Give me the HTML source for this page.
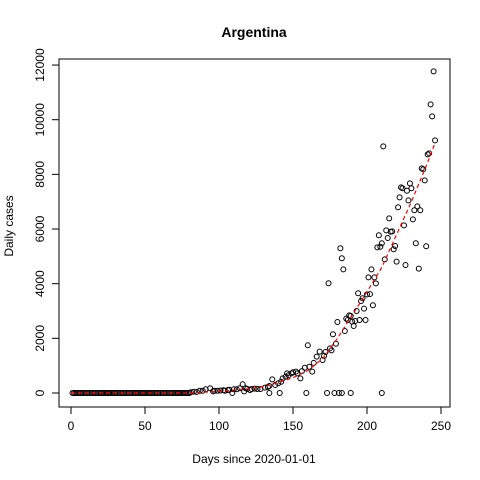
<!DOCTYPE html>
<html><head><meta charset="utf-8"><style>
body{margin:0;background:#fff;}
svg{display:block;font-family:"Liberation Sans",Arial,sans-serif;}
</style></head><body>
<svg id="chart" width="480" height="480">
<rect width="480" height="480" fill="#fff"/>
<text x="254" y="37" text-anchor="middle" font-weight="bold" font-size="14">Argentina</text>
<text x="254" y="463" text-anchor="middle" font-size="12">Days since 2020-01-01</text>
<text x="0" y="0" transform="translate(13,226) rotate(-90)" text-anchor="middle" font-size="12">Daily cases</text>
<rect x="59" y="59" width="391" height="348" fill="none" stroke="#000"/>
<g id="axes"></g><g id="pts"></g><g id="trend"></g>
</svg>
<script>
const xTicks=[0,50,100,150,200,250];
const yTicks=[0,2000,4000,6000,8000,10000,12000];
const zeroDays=[1,2,3,4,5,6,7,8,9,10,11,12,13,14,15,16,17,18,19,20,21,22,23,24,25,26,27,28,29,30,31,32,33,34,35,36,37,38,39,40,41,42,43,44,45,46,47,48,49,50,51,52,53,54,55,56,57,58,59,60,61,62,63,64,65,66,67,68,69,70,71,72,73,74,75,76,77,78,79,80,109,134,141,159,173,178,181,183,189,210];
const days=[
81,83,85,87,89,91,94,96,97,99,
101,103,104,106,107,110,112,114,116,117,
118,119,121,122,124,126,128,131,133,134,
136,138,140,142,143,145,146,147,149,150,
152,153,155,156,158,160,161,163,164,166,
168,170,171,172,174,175,176,177,179,180,
182,183,184,185,186,187,188,189,190,191,
192,193,194,195,196,197,198,199,200,201,
202,203,204,205,206,207,208,209,210,211,
212,213,214,215,216,217,218,219,220,221,
222,223,224,225,226,227,228,229,230,231,
232,233,234,235,236,237,238,239,240,241,
242,243,244,245,246];
const cases=[
26,48,40,84,84,135,172,60,84,84,
90,100,84,110,120,135,135,172,318,60,
172,150,110,146,160,146,146,195,220,256,
500,293,355,413,537,597,720,650,720,760,
780,720,537,800,926,1745,962,780,1100,1330,
1512,1207,1365,1500,4015,1635,1560,2150,1800,2600,
5295,4930,4525,2270,2720,2670,2840,2817,2610,2450,
2635,3000,3650,2670,3365,3465,3085,2670,3610,4230,
3620,4525,3210,4230,4010,5330,5770,5350,5480,9025,
4890,5950,5670,6390,5900,5915,5260,5380,4805,6795,
7160,7526,7490,6135,4685,7400,7050,7670,7490,6355,
6685,5480,6830,4550,6685,8220,8185,7780,5370,8730,
8770,10560,10120,11770,9245];
const trendDays=[0,80,100,120,130,140,150,160,170,180,190,200,210,220,230,240,246];
const trendVals=[0,0,60,150,230,380,560,820,1250,2000,2850,3700,4600,5800,7000,8300,9150];
const NS="http://www.w3.org/2000/svg";
const X=d=>71+d*1.48, Y=v=>393-v*0.02733;
const mk=(t,a,p)=>{const e=document.createElementNS(NS,t);for(const k in a)e.setAttribute(k,a[k]);p.appendChild(e);return e;};
const ax=document.getElementById('axes');
mk('line',{x1:X(0),x2:X(250),y1:407,y2:407,stroke:'#000'},ax);
mk('line',{x1:59,x2:59,y1:Y(0),y2:Y(12000),stroke:'#000'},ax);
xTicks.forEach(t=>{
 const l=mk('line',{x1:X(t),x2:X(t),y1:407,y2:414,stroke:'#000'},ax);
 
 
 const s=mk('text',{x:X(t),y:430,'text-anchor':'middle','font-size':12},ax);s.textContent=t;
 
 
});
yTicks.forEach(t=>{
 const l=mk('line',{x1:52,x2:59,y1:Y(t),y2:Y(t),stroke:'#000'},ax);
 
 
 const s=mk('text',{x:0,y:0,transform:`translate(44,${Y(t)}) rotate(-90)`,'text-anchor':'middle','font-size':12},ax);s.textContent=t;
 
 
});
const pg=document.getElementById('pts');
zeroDays.forEach(d=>{const c=mk('circle',{cx:X(d),cy:Y(0),r:2.5,fill:'none',stroke:'#000','stroke-width':1},pg);
 
 });
days.forEach((d,i)=>{const c=mk('circle',{cx:X(d),cy:Y(cases[i]),r:2.5,fill:'none',stroke:'#000','stroke-width':1},pg);
 
 });
const tp=mk('polyline',{points:trendDays.map((d,i)=>X(d)+','+Y(trendVals[i])).join(' '),fill:'none',stroke:'#f00','stroke-width':1.2,'stroke-dasharray':'4,3'},document.getElementById('trend'));


</script>
</body></html>
